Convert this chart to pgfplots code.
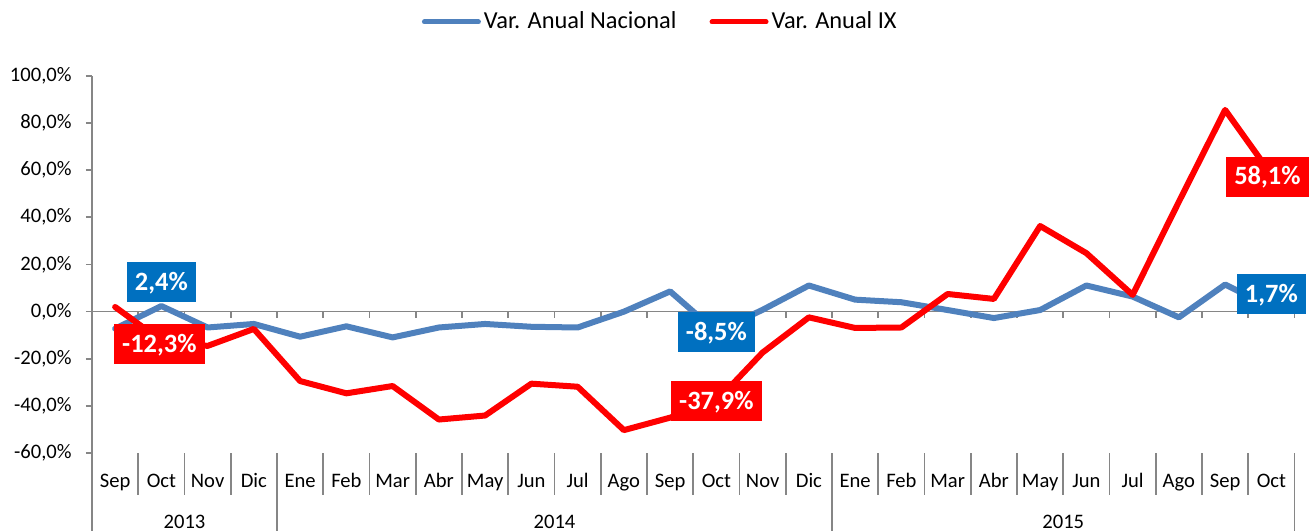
\documentclass[border=0pt]{standalone}
\usepackage{fontspec}
\setmainfont{Carlito}
\usepackage{pgfplots}
\pgfplotsset{compat=1.18}
\definecolor{nacional}{HTML}{4F81BD}
\definecolor{nacbox}{HTML}{0070C0}
\definecolor{ixred}{HTML}{FF0000}
\definecolor{axgray}{HTML}{868686}
\tikzset{
  lbl/.style={text=white, font=\bfseries\fontsize{13.2}{15}\selectfont,
    inner xsep=4.2pt, inner ysep=4.8pt, text height=9.4pt, text depth=1pt, anchor=center},
  mlab/.style={anchor=base, font=\fontsize{10.3}{12}\selectfont, text=black, inner sep=0pt},
  sep/.style={axgray, line width=0.8pt},
}
\begin{document}
\begin{tikzpicture}
\begin{axis}[
  name=ax,
  scale only axis,
  width=601.25pt, height=227.6pt,
  xmin=-0.5, xmax=25.5,
  ymin=-92.9, ymax=100,
  axis x line=none,
  axis y line=left,
  y axis line style={axgray, line width=0.8pt, -},
  ytick={-60,-40,...,100},
  yticklabels={{-60,0\%},{-40,0\%},{-20,0\%},{0,0\%},{20,0\%},{40,0\%},{60,0\%},{80,0\%},{100,0\%}},
  ytick style={axgray, line width=0.8pt},
  tick align=outside, major tick length=3pt,
  yticklabel style={font=\fontsize{10.3}{12}\selectfont, text=black, inner sep=0pt, xshift=-7pt},
  clip=false,
  legend style={at={(0.473,1)}, anchor=center, yshift=26.85pt, draw=none, fill=none,
    legend columns=-1, font=\fontsize{12.2}{14}\selectfont, inner sep=0pt,
    nodes={inner sep=1.5pt, text=black},
    /tikz/every even column/.append style={column sep=15pt}},
  legend image code/.code={\draw[#1, line width=2.5pt, line cap=round] (0pt,0pt) -- (27pt,0pt);},
]
% zero line and its ticks
\draw[sep] (axis cs:-0.5,0) -- (axis cs:25.5,0);
\pgfplotsinvokeforeach{0.5,1.5,...,25.5}{\draw[sep] (axis cs:#1,0) -- ++(0pt,-3.3pt);}
% category separators
\pgfplotsinvokeforeach{0.5,1.5,2.5,4.5,5.5,6.5,7.5,8.5,9.5,10.5,11.5,12.5,13.5,14.5,16.5,17.5,18.5,19.5,20.5,21.5,22.5,23.5,24.5}{\draw[sep] (axis cs:#1,-60) -- (axis cs:#1,-77.7);}
\pgfplotsinvokeforeach{3.5,15.5,25.5}{\draw[sep] (axis cs:#1,-60) -- (axis cs:#1,-92.9);}

\addplot[nacional, line width=3pt, line join=round, line cap=round] coordinates {
(0,-7.2) (1,2.4) (2,-6.7) (3,-5.2) (4,-10.6) (5,-6.2) (6,-10.9) (7,-6.7) (8,-5.2) (9,-6.4)
(10,-6.7) (11,0.0) (12,8.6) (13,-8.5) (14,0.8) (15,11.1) (16,5.1) (17,4.0) (18,0.7) (19,-2.7)
(20,0.7) (21,11.1) (22,6.4) (23,-2.4) (24,11.5) (25,1.7)};
\addlegendentry{Var. Anual Nacional}
\addplot[ixred, line width=3pt, line join=round, line cap=round] coordinates {
(0,2.0) (1,-12.3) (2,-14.5) (3,-7.3) (4,-29.4) (5,-34.6) (6,-31.5) (7,-45.7) (8,-44.0) (9,-30.5)
(10,-31.8) (11,-50.2) (12,-44.9) (13,-37.9) (14,-17.3) (15,-2.4) (16,-6.9) (17,-6.7) (18,7.5) (19,5.4)
(20,36.3) (21,24.8) (22,7.1) (23,46.6) (24,85.5) (25,58.1)};
\addlegendentry{Var. Anual IX}

% data labels
\node[lbl, fill=nacbox, yshift=12pt] at (axis cs:1,2.4) {2,4\%};
\node[lbl, fill=ixred, yshift=-1.5pt, xshift=-1pt] at (axis cs:1,-12.3) {-12,3\%};
\node[lbl, fill=nacbox] at (axis cs:13,-8.5) {-8,5\%};
\node[lbl, fill=ixred] at (axis cs:13,-37.9) {-37,9\%};
\node[lbl, fill=ixred, xshift=-2pt, yshift=-1pt] at (axis cs:25,58.1) {58,1\%};
\node[lbl, fill=nacbox, yshift=7pt] at (axis cs:25,1.7) {1,7\%};

% month labels
\node[mlab] at (axis cs:0,-74.4) {Sep};
\node[mlab] at (axis cs:1,-74.4) {Oct};
\node[mlab] at (axis cs:2,-74.4) {Nov};
\node[mlab] at (axis cs:3,-74.4) {Dic};
\node[mlab] at (axis cs:4,-74.4) {Ene};
\node[mlab] at (axis cs:5,-74.4) {Feb};
\node[mlab] at (axis cs:6,-74.4) {Mar};
\node[mlab] at (axis cs:7,-74.4) {Abr};
\node[mlab] at (axis cs:8,-74.4) {May};
\node[mlab] at (axis cs:9,-74.4) {Jun};
\node[mlab] at (axis cs:10,-74.4) {Jul};
\node[mlab] at (axis cs:11,-74.4) {Ago};
\node[mlab] at (axis cs:12,-74.4) {Sep};
\node[mlab] at (axis cs:13,-74.4) {Oct};
\node[mlab] at (axis cs:14,-74.4) {Nov};
\node[mlab] at (axis cs:15,-74.4) {Dic};
\node[mlab] at (axis cs:16,-74.4) {Ene};
\node[mlab] at (axis cs:17,-74.4) {Feb};
\node[mlab] at (axis cs:18,-74.4) {Mar};
\node[mlab] at (axis cs:19,-74.4) {Abr};
\node[mlab] at (axis cs:20,-74.4) {May};
\node[mlab] at (axis cs:21,-74.4) {Jun};
\node[mlab] at (axis cs:22,-74.4) {Jul};
\node[mlab] at (axis cs:23,-74.4) {Ago};
\node[mlab] at (axis cs:24,-74.4) {Sep};
\node[mlab] at (axis cs:25,-74.4) {Oct};
% year labels
\node[mlab] at (axis cs:1.5,-91.7) {2013};
\node[mlab] at (axis cs:9.5,-91.7) {2014};
\node[mlab] at (axis cs:20.5,-91.7) {2015};
\end{axis}
\pgfresetboundingbox
\path[use as bounding box] ([xshift=-46pt]ax.south west) rectangle ([xshift=7.25pt,yshift=37.85pt]ax.north east);
\end{tikzpicture}
\end{document}
